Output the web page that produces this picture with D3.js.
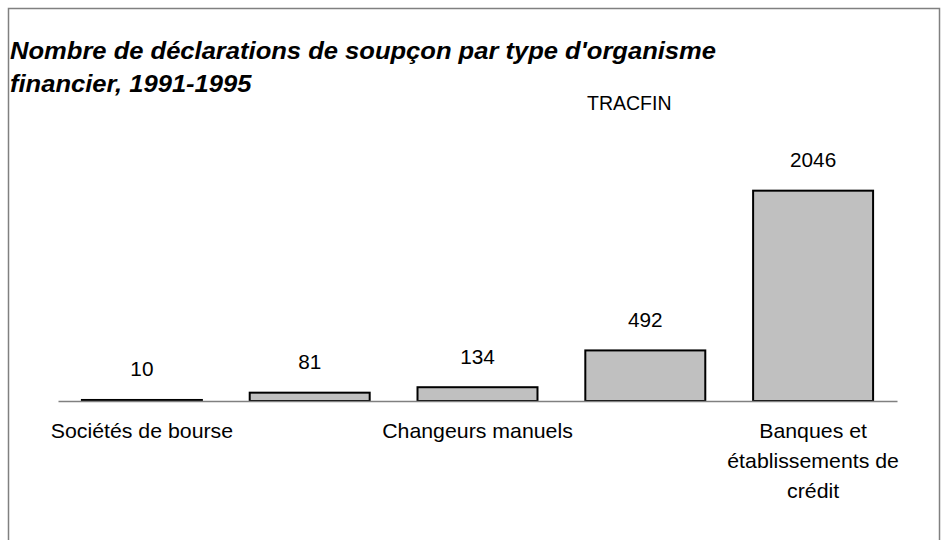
<!DOCTYPE html>
<html>
<head>
<meta charset="utf-8">
<script src="https://cdn.jsdelivr.net/npm/d3@7"></script>
<style>
  html, body { margin: 0; padding: 0; background: #fff; }
  svg { display: block; }
  text { font-family: "Liberation Sans", Arial, sans-serif; fill: #000; }
</style>
</head>
<body>
<svg id="chart" width="943" height="540"></svg>
<script>
// Suspicious-transaction reports by type of financial body, 1991-1995
const categories = [
  "Sociétés de bourse",
  "",
  "Changeurs manuels",
  "",
  "Banques et établissements de crédit"
];
// Category labels as printed (alternate ones are skipped on the axis)
const categoryLines = [
  ["Sociétés de bourse"],
  [],
  ["Changeurs manuels"],
  [],
  ["Banques et", "établissements de", "crédit"]
];
const values = [10, 81, 134, 492, 2046];
const titleLines = [
  "Nombre de déclarations de soupçon par type d'organisme",
  "financier, 1991-1995"
];
const sourceLabel = "TRACFIN";

const svg = d3.select("#chart");
const W = 943, H = 540;
const stretch = 1.065; // slightly wide lettering

// Outer frame
svg.append("rect")
  .attr("x", 8.5).attr("y", 8.5)
  .attr("width", 931).attr("height", H + 20)
  .attr("fill", "#fff")
  .attr("stroke", "#808080")
  .attr("stroke-width", 1.5);

// Title
const title = svg.append("text")
  .attr("transform", `translate(10,0) scale(${stretch},1)`)
  .attr("font-size", 24)
  .attr("font-weight", "bold")
  .attr("font-style", "italic");
title.selectAll("tspan")
  .data(titleLines)
  .join("tspan")
  .attr("x", 0)
  .attr("y", (d, i) => 59 + i * 33)
  .text(d => d);

// Source label
svg.append("text")
  .attr("x", 587).attr("y", 110)
  .attr("font-size", 19.5)
  .text(sourceLabel);

// Scales
const idx = d3.range(values.length);
const x = d3.scaleBand()
  .domain(idx)
  .range([58, 897])
  .paddingInner(0.285)
  .paddingOuter(0.1425);

const y = d3.scaleLinear()
  .domain([0, 2500])
  .range([401, 144]);

// Bars
svg.append("g")
  .selectAll("rect")
  .data(values)
  .join("rect")
  .attr("x", (d, i) => x(i))
  .attr("y", d => y(d))
  .attr("width", x.bandwidth())
  .attr("height", d => y(0) - y(d))
  .attr("fill", "#c0c0c0")
  .attr("stroke", "#000")
  .attr("stroke-width", 2);

// Category axis line
const axis = d3.axisBottom(x).tickSize(0).tickFormat("");
const axisG = svg.append("g")
  .attr("transform", `translate(0,${y(0)})`)
  .call(axis);
axisG.select(".domain")
  .attr("stroke", "#808080")
  .attr("stroke-width", 1.5);

// Value labels
svg.append("g")
  .selectAll("text")
  .data(values)
  .join("text")
  .attr("transform", (d, i) =>
    `translate(${x(i) + x.bandwidth() / 2},${y(d) - 23.5}) scale(${stretch},1)`)
  .attr("text-anchor", "middle")
  .attr("font-size", 19.5)
  .text(d => d);

// Category labels (wrapped)
const catG = svg.append("g");
categoryLines.forEach((lines, i) => {
  const t = catG.append("text")
    .attr("transform", `translate(${x(i) + x.bandwidth() / 2},0) scale(${stretch},1)`)
    .attr("text-anchor", "middle")
    .attr("font-size", 20)
    .attr("data-category", categories[i]);
  t.selectAll("tspan")
    .data(lines)
    .join("tspan")
    .attr("x", 0)
    .attr("y", (d, k) => 438 + k * 30)
    .text(d => d);
});
</script>
</body>
</html>
